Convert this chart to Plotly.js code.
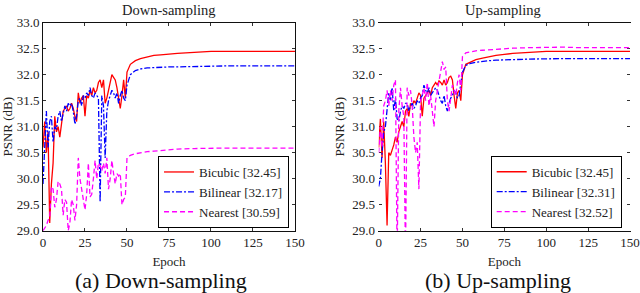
<!DOCTYPE html>
<html>
<head>
<meta charset="utf-8">
<script src="https://cdn.plot.ly/plotly-3.0.1.min.js"></script>
<style>html,body{margin:0;padding:0;background:#fff;}#chart{width:640px;height:293px;}</style>
</head>
<body>
<div id="chart"></div>
<script>
// Epochs (dense during the noisy phase, sparse afterwards)
const epochs = [0,1,2,3,4,5,6,7,8,9,10,11,12,13,14,15,16,17,18,19,20,21,22,23,24,25,26,27,28,29,30,31,32,33,34,35,36,37,38,39,40,41,42,43,44,45,46,47,48,49,50,
  52,55,58,62,66,70,75,80,90,100,110,120,135,150];

// (a) Down-sampling
const downBicubic = [30.6,31.1,30.5,30.9,29.15,29.9,30.3,31.2,30.9,31.0,30.8,31.1,31.3,31.35,31.4,31.3,31.35,31.45,31.35,31.2,31.1,31.65,31.45,31.55,31.6,31.2,31.6,31.55,31.7,31.6,31.75,31.65,31.7,31.85,31.9,31.75,31.9,31.45,31.55,31.7,31.85,32.0,31.95,31.9,31.75,31.5,31.35,31.6,31.9,31.55,32.05,
  32.2,32.27,32.31,32.34,32.37,32.38,32.4,32.41,32.43,32.45,32.45,32.45,32.45,32.45];
const downBilinear = [29.9,30.8,31.3,30.6,31.1,31.2,30.7,31.0,30.95,31.2,31.3,31.1,31.25,31.4,31.3,31.45,31.4,31.45,31.3,31.05,31.2,31.5,31.55,31.4,31.6,31.55,31.65,31.6,31.75,31.6,31.55,31.65,31.6,31.55,29.55,31.6,31.4,30.4,31.3,31.5,31.6,31.7,31.65,31.55,31.65,31.45,31.6,31.7,31.55,31.5,31.8,
  32.0,32.08,32.11,32.13,32.14,32.14,32.15,32.15,32.16,32.17,32.17,32.17,32.17,32.17];
const downNearest = [29.0,29.05,29.1,29.2,29.25,29.85,29.8,29.45,29.6,29.95,29.9,29.8,29.3,29.6,29.55,29.0,29.15,29.6,29.5,29.2,29.5,30.4,30.0,29.8,29.55,29.4,29.7,30.3,29.65,29.7,30.0,30.35,30.0,30.3,30.25,30.15,30.3,30.1,30.4,29.8,30.0,30.35,30.1,29.9,30.1,30.05,30.1,29.5,29.6,29.65,30.4,
  30.45,30.48,30.5,30.52,30.53,30.54,30.55,30.57,30.58,30.59,30.59,30.59,30.59,30.59];

// (b) Up-sampling
const upBicubic = [30.6,31.15,30.4,31.1,30.3,29.1,30.5,30.45,30.55,30.65,30.8,30.7,30.9,31.0,31.1,31.0,31.3,31.35,31.2,31.45,31.4,31.5,31.45,31.55,31.65,31.6,31.2,31.55,31.6,31.65,31.7,31.6,31.75,31.8,31.85,31.8,31.88,31.85,31.8,31.9,31.8,31.85,31.95,31.97,31.9,31.6,31.35,31.65,31.7,31.5,32.0,
  32.2,32.25,32.29,32.32,32.35,32.37,32.39,32.41,32.43,32.45,32.45,32.45,32.45,32.45];
const upBilinear = [29.85,30.0,30.5,30.9,31.0,31.3,31.65,31.5,31.75,31.3,31.55,31.15,31.1,31.3,31.4,31.35,31.45,31.45,31.3,31.4,31.45,31.35,31.4,31.5,31.45,31.55,31.6,31.8,31.7,31.65,31.75,31.6,31.65,31.7,31.75,31.7,31.6,31.5,31.45,31.6,31.4,31.3,31.45,31.55,31.6,31.7,31.65,31.55,31.6,31.85,32.05,
  32.18,32.22,32.24,32.26,32.27,32.28,32.29,32.29,32.3,32.31,32.31,32.31,32.31,32.31];
const upNearest = [30.5,31.0,30.6,31.4,31.5,31.7,31.4,31.7,31.5,31.8,31.9,28.5,31.3,31.75,31.4,31.2,28.5,31.75,31.6,31.7,31.4,30.8,30.5,30.7,29.8,31.5,31.6,31.75,31.5,31.85,31.4,31.6,31.3,31.0,31.5,31.7,31.9,32.1,32.25,32.1,32.15,31.5,31.3,31.55,31.8,31.7,31.6,31.85,32.0,31.7,32.35,
  32.42,32.44,32.46,32.47,32.48,32.49,32.5,32.51,32.52,32.53,32.53,32.52,32.52,32.52];

const xTicks = [0,25,50,75,100,125,150];
const yTicks = [29.0,29.5,30.0,30.5,31.0,31.5,32.0,32.5,33.0];
const names = ['Bicubic', 'Bilinear', 'Nearest'];
const downFinal = ['32.45','32.17','30.59'];
const upFinal = ['32.45','32.31','32.52'];
const panelTitles = ['Down-sampling', 'Up-sampling'];
const captions = ['(a) Down-sampling', '(b) Up-sampling'];

const colors = ['#ff0000', '#0000ff', '#ff00ff'];
const dashes = ['solid', '6px,2px,2px,2px', '5px,3px'];
const serif = '"Liberation Serif", "Times New Roman", serif';

const traces = [];
[downBicubic, downBilinear, downNearest].forEach((ys, i) => {
  traces.push({x: epochs, y: ys, type: 'scatter', mode: 'lines', xaxis: 'x', yaxis: 'y',
    name: names[i] + ' [' + downFinal[i] + ']', legend: 'legend',
    line: {color: colors[i], width: 1.3, dash: dashes[i]}});
});
[upBicubic, upBilinear, upNearest].forEach((ys, i) => {
  traces.push({x: epochs, y: ys, type: 'scatter', mode: 'lines', xaxis: 'x2', yaxis: 'y2',
    name: names[i] + ' [' + upFinal[i] + ']', legend: 'legend2',
    line: {color: colors[i], width: 1.3, dash: dashes[i]}});
});

const tickFont = {family: serif, size: 13, color: '#222'};
function xa(domain, anchor) {
  return {domain: domain, anchor: anchor, range: [0, 150], tickvals: xTicks, ticktext: xTicks.map(String),
    ticks: 'inside', ticklen: 3, tickcolor: '#333', showline: true, linecolor: '#111', linewidth: 1,
    mirror: 'ticks', showgrid: false, zeroline: false, tickfont: tickFont,
    title: {text: 'Epoch', font: {family: serif, size: 13, color: '#222'}, standoff: 7}};
}
function ya(anchor, lineColor) {
  return {domain: [0.2126, 0.9225], anchor: anchor, range: [29, 33], tickvals: yTicks,
    ticktext: yTicks.map(v => v.toFixed(1)),
    ticks: 'inside', ticklen: 3, tickcolor: '#333', showline: true, linecolor: lineColor, linewidth: 1,
    mirror: 'ticks', showgrid: false, zeroline: false, tickfont: tickFont, layer: 'below traces',
    title: {text: 'PSNR (dB)', font: {family: serif, size: 13, color: '#222'}, standoff: 4}};
}
const legendBase = {bgcolor: '#fff', bordercolor: '#000', borderwidth: 1,
  font: {family: serif, size: 13, color: '#222'}, xanchor: 'right', yanchor: 'bottom',
  tracegroupgap: 0, itemwidth: 30};

const layout = {
  width: 640, height: 293,
  margin: {l: 0, r: 0, t: 0, b: 0},
  font: {family: serif, size: 13, color: '#222'},
  paper_bgcolor: '#fff', plot_bgcolor: '#fff',
  showlegend: true,
  xaxis: xa([0.0672, 0.4609], 'y'),
  yaxis: ya('x', '#111'),
  xaxis2: xa([0.5917, 0.9844], 'y2'),
  yaxis2: ya('x2', '#ffffff'),
  legend: Object.assign({}, legendBase, {x: 0.4516, y: 0.2218}),
  legend2: Object.assign({}, legendBase, {x: 0.9714, y: 0.2225}),
  annotations: [
    {text: panelTitles[0], x: 168/640, y: 0.966, xref: 'paper', yref: 'paper', showarrow: false,
      xanchor: 'center', yanchor: 'middle', font: {family: serif, size: 14.5, color: '#222'}},
    {text: panelTitles[1], x: 503/640, y: 0.966, xref: 'paper', yref: 'paper', showarrow: false,
      xanchor: 'center', yanchor: 'middle', font: {family: serif, size: 14.5, color: '#222'}},
    {text: captions[0], x: 160.5/640, y: 0.042, xref: 'paper', yref: 'paper', showarrow: false,
      xanchor: 'center', yanchor: 'middle', font: {family: serif, size: 22, color: '#111'}},
    {text: captions[1], x: 498/640, y: 0.042, xref: 'paper', yref: 'paper', showarrow: false,
      xanchor: 'center', yanchor: 'middle', font: {family: serif, size: 22, color: '#111'}}
  ]
};

Plotly.newPlot('chart', traces, layout, {staticPlot: true, displayModeBar: false});
</script>
</body>
</html>
